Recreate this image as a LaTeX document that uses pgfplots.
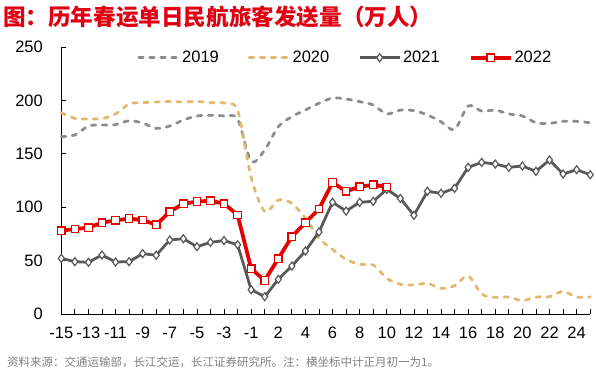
\documentclass[border=0pt]{standalone}
\usepackage{pgfplots}
\pgfplotsset{compat=1.18}
\usepackage{fontspec}
\setmainfont{Liberation Sans}
\newfontfamily\cjk{Noto Sans CJK SC}
\definecolor{c2019}{HTML}{8C8C8C}
\definecolor{c2020}{HTML}{E2B86E}
\definecolor{c2021}{HTML}{595959}
\definecolor{c2022}{HTML}{E60000}
\definecolor{ctitle}{HTML}{E00012}
\definecolor{cfoot}{HTML}{808080}
\begin{document}
\begin{tikzpicture}
\path[use as bounding box] (-61.3bp,-56bp) rectangle (534.7bp,314bp);
\begin{axis}[
  scale only axis, width=528.9bp, height=267bp,
  at={(0,0)}, anchor=south west,
  xmin=0, xmax=39, ymin=0, ymax=250,
  axis lines*=left,
  axis line style={black, line width=0.8bp},
  tick align=inside,
  tick style={black, line width=0.8bp},
  major tick length=5bp, minor tick length=5bp,
  xtick={0,2,...,38}, minor xtick={1,3,...,39},
  xticklabels={-15,-13,-11,-9,-7,-5,-3,-1,2,4,6,8,10,12,14,16,18,20,22,24},
  ytick={0,50,...,250},
  /pgf/number format/assume math mode=true,
  ticklabel style={font=\fontsize{16.5bp}{19bp}\selectfont},
  yticklabel style={xshift=-15bp},
  xticklabel style={yshift=-9.5bp},
  clip=false,
  legend columns=4,
  legend style={draw=none, fill=none, at={(0.537,1)}, anchor=north,
    font=\fontsize{16.5bp}{19bp}\selectfont,
    /tikz/every even column/.append style={column sep=27bp},
    nodes={inner sep=2bp}},
  legend image code/.code={\draw[mark repeat=2,mark phase=2,#1] plot coordinates {(0bp,0bp)(20bp,0bp)(40bp,0bp)};},
]
\addplot[c2019, line width=2.75bp, line cap=round, dash pattern=on 4.5bp off 6.5bp, smooth, no marks] coordinates {
(0,166) (1,167.6) (2,176) (3,177) (4,177.3) (5,181) (6,178.8) (7,173.8) (8,176) (9,181.6)
(10,185.4) (11,186) (12,185.4) (13,182.6) (14,143) (15,153.6) (16,175.4) (17,184.8) (18,191) (19,197.3)
(20,202.2) (21,201.3) (22,198.8) (23,195.7) (24,187.3) (25,190.9) (26,190.4) (27,186.4) (28,180) (29,172.8)
(30,194.8) (31,190) (32,190.9) (33,187.3) (34,185.4) (35,179.1) (36,178.5) (37,180.4) (38,180.4) (39,179.1)
};
\addlegendentry{2019}
\addplot[c2020, line width=2.75bp, line cap=round, dash pattern=on 4.5bp off 6.5bp, smooth, no marks] coordinates {
(0,188.5) (1,183.2) (2,182.6) (3,182.9) (4,187.3) (5,196.6) (6,197.9) (7,198.5) (8,199.1) (9,198.5)
(10,199) (11,197.9) (12,197.6) (13,190.7) (14,128) (15,96) (16,106.7) (17,103.6) (18,89.6) (19,70.9)
(20,60.5) (21,51.2) (22,46.5) (23,45.9) (24,33.4) (25,27.8) (26,27.2) (27,28.7) (28,24) (29,26.5)
(30,35.6) (31,18.7) (32,15.6) (33,15.9) (34,12.5) (35,15.9) (36,16.2) (37,21.2) (38,15.9) (39,15.9)
};
\addlegendentry{2020}
\addplot[c2021, line width=2.75bp, mark=diamond*, mark size=4bp,
  mark options={fill=white, draw=c2021, line width=1.2bp, solid}] coordinates {
(0,52.1) (1,49) (2,48.4) (3,55.2) (4,48.7) (5,49) (6,56.5) (7,55) (8,69.3) (9,70.5)
(10,63) (11,67.1) (12,68.8) (13,64.8) (14,22.8) (15,16.2) (16,32.5) (17,44.9) (18,59) (19,76.8)
(20,104.6) (21,96.4) (22,104.6) (23,105.5) (24,116.7) (25,108.2) (26,92.4) (27,114.9) (28,113) (29,117.7)
(30,137.3) (31,142) (32,140.4) (33,137.3) (34,138.6) (35,133.6) (36,144.2) (37,131.1) (38,135.1) (39,130.4)
};
\addlegendentry{2021}
\addplot[c2022, line width=3.75bp, mark=square*, mark size=3.75bp,
  mark options={fill=white, draw=c2022, line width=1.2bp, solid}] coordinates {
(0,78) (1,79.6) (2,80.8) (3,85.5) (4,87.7) (5,89.3) (6,88) (7,83.6) (8,95.8) (9,103.3)
(10,105.2) (11,106.1) (12,103.3) (13,92.8) (14,42.4) (15,31.5) (16,51.8) (17,72.4) (18,85.5) (19,98.3)
(20,123) (21,114.9) (22,119.2) (23,121) (24,118.9)
};
\addlegendentry{2022}
\end{axis}
\node[anchor=base west, inner sep=0, text=ctitle] at (-58.3bp,288.5bp)
  {\cjk\bfseries\fontsize{22.6bp}{26bp}\selectfont 图：历年春运单日民航旅客发送量（万人）};
\node[anchor=base west, inner sep=0, text=cfoot] at (-54.3bp,-52bp)
  {\cjk\fontsize{11.5bp}{13bp}\selectfont 资料来源：交通运输部，长江交运，长江证券研究所。注：横坐标中计正月初一为1。};
\end{tikzpicture}
\end{document}
